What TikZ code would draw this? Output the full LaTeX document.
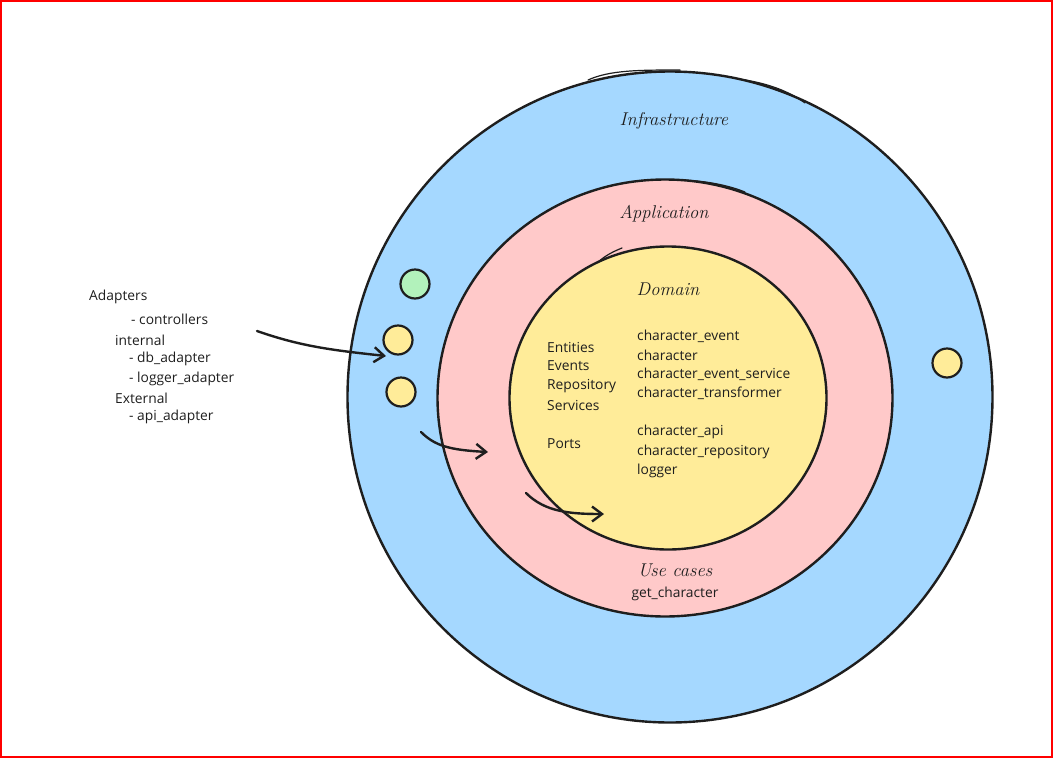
\documentclass[tikz,border=0pt]{standalone}
\usepackage{fontspec}
\setmainfont{Open Sans}
\usetikzlibrary{shapes.geometric,arrows.meta}
\definecolor{infrac}{HTML}{A5D8FF}
\definecolor{appc}{HTML}{FFC9C9}
\definecolor{domc}{HTML}{FFEC99}
\definecolor{greenc}{HTML}{B2F2BB}
\definecolor{inkc}{HTML}{1E1E1E}
\newfontfamily\handfont{Latin Modern Roman}
\tikzset{
  ring/.style={ellipse, draw=inkc, line width=2.4pt, inner sep=0pt},
  dot/.style={circle, draw=inkc, line width=2.2pt, minimum size=29pt, inner sep=0pt},
  txt/.style={anchor=west, inner sep=0pt, text=inkc, font=\fontsize{13.8}{15}\selectfont},
  title/.style={inner sep=0pt, text=inkc, font=\fontsize{18.5}{20}\selectfont\handfont\itshape},
  flow/.style={draw=inkc, line width=2.4pt, line cap=round, -{Straight Barb[length=10pt,width=15pt,line width=2.4pt]}},
  sketch/.style={draw=inkc, line width=1.2pt, line cap=round}
}
\begin{document}
\begin{tikzpicture}[x=1pt,y=-1pt]
\useasboundingbox (0,0) rectangle (1053,758);
\draw[red, line width=2pt] (1,1) rectangle (1052,757);
% rings
\node[ring, fill=infrac, minimum width=645pt, minimum height=651pt] (infra) at (670,397) {};
\node[ring, fill=appc, minimum width=455pt, minimum height=437pt] (app) at (665,398) {};
\node[ring, fill=domc, minimum width=317pt, minimum height=303pt] (dom) at (668,398) {};
% sketch overlap strokes
\draw[sketch] (588,80) .. controls (610,70) and (640,70) .. (680,70);
\draw[sketch] (745,80) .. controls (770,84) and (790,92) .. (805,103);
\draw[sketch] (676,180) .. controls (700,180) and (725,184) .. (745,192);
\draw[sketch] (598,262) .. controls (605,256) and (612,252) .. (622,248);
% small circles
\node[dot, fill=greenc] (g1) at (415,284) {};
\node[dot, fill=domc] (y1) at (398,340) {};
\node[dot, fill=domc] (y2) at (401,392) {};
\node[dot, fill=domc] (y3) at (947,363) {};
% titles
\node[title] (tinfra) at (674,121) {Infrastructure};
\node[title] (tapp) at (664,214) {Application};
\node[title] (tdom) at (668,289) {Domain};
\node[title] (tuse) at (675,570) {Use cases};
\node[txt, anchor=center] (getc) at (675,594) {get\_character};
% domain contents
\node[txt] (ent) at (547,347) {Entities};
\node[txt] (evt) at (547,366) {Events};
\node[txt] (rep) at (547,386) {Repository};
\node[txt] (srv) at (547,405) {Services};
\node[txt] (prt) at (547,444) {Ports};
\node[txt] (c1) at (637,336) {character\_event};
\node[txt] (c2) at (637,355) {character};
\node[txt] (c3) at (637,374) {character\_event\_service};
\node[txt] (c4) at (637,393) {character\_transformer};
\node[txt] (c5) at (637,432) {character\_api};
\node[txt] (c6) at (637,452) {character\_repository};
\node[txt] (c7) at (637,471) {logger};
% adapters list
\node[txt] (ad) at (89,297) {Adapters};
\node[txt] (ad1) at (131,319) {- controllers};
\node[txt] (ad2) at (115,340) {internal};
\node[txt] (ad3) at (129,359) {- db\_adapter};
\node[txt] (ad4) at (129,379) {- logger\_adapter};
\node[txt] (ad5) at (115,398) {External};
\node[txt] (ad6) at (129,417) {- api\_adapter};
% arrows
\coordinate (a1s) at (257,331);
\coordinate (a1e) at (386,356);
\coordinate (a2s) at (421,432);
\coordinate (a2e) at (488,452);
\coordinate (a3s) at (526,493);
\coordinate (a3e) at (604,514);
\draw[flow] (a1s) .. controls (300,346) and (330,350) .. (a1e);
\draw[flow] (a2s) .. controls (435,446) and (450,450) .. (a2e);
\draw[flow] (a3s) .. controls (545,512) and (570,514) .. (a3e);
\end{tikzpicture}
\end{document}
